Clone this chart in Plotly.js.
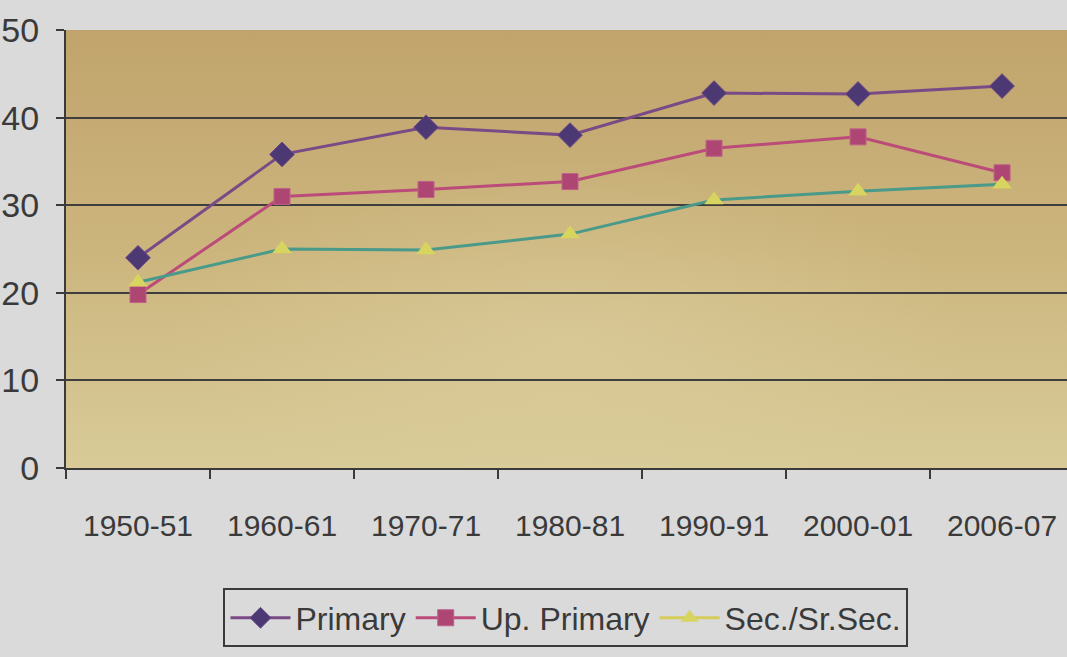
<!DOCTYPE html>
<html>
<head>
<meta charset="utf-8">
<script src="https://cdn.plot.ly/plotly-3.0.1.min.js"></script>
<style>html,body{margin:0;padding:0;background:#dadada;}#chart{width:1067px;height:657px;}</style>
</head>
<body>
<div id="chart"></div>
<script>
var years = ["1950-51","1960-61","1970-71","1980-81","1990-91","2000-01","2006-07"];
var primary = [24.0, 35.8, 38.9, 38.0, 42.8, 42.7, 43.6];
var upPrimary = [19.8, 31.0, 31.8, 32.7, 36.5, 37.8, 33.7];
var secondary = [21.2, 25.0, 24.9, 26.7, 30.6, 31.6, 32.4];
var yTicks = [0, 10, 20, 30, 40, 50];

var FONT = '"Liberation Sans", Arial, sans-serif';

var svg = '<svg xmlns="http://www.w3.org/2000/svg" width="100" height="100" preserveAspectRatio="none">' +
  '<defs><linearGradient id="g" x1="0" y1="0" x2="0" y2="1">' +
  '<stop offset="0" stop-color="#c0a46c"/><stop offset="0.5" stop-color="#ccb57d"/>' +
  '<stop offset="1" stop-color="#d8cb98"/></linearGradient>' +
  '<radialGradient id="r" cx="0.5" cy="0.7" r="0.4"><stop offset="0" stop-color="#e0d4a6" stop-opacity="0.45"/>' +
  '<stop offset="1" stop-color="#e0d4a6" stop-opacity="0"/></radialGradient></defs>' +
  '<rect width="100" height="100" fill="url(#g)"/><rect width="100" height="100" fill="url(#r)"/></svg>';
var bgSrc = 'data:image/svg+xml;base64,' + btoa(svg);

var traces = [
  {x: years, y: primary, name: 'Primary', type: 'scatter', mode: 'lines+markers',
   line: {color: '#7a4a86', width: 3},
   marker: {symbol: 'diamond', size: 19, color: '#4c3873', line: {color: '#6a4a88', width: 1}}},
  {x: years, y: upPrimary, name: 'Up. Primary', type: 'scatter', mode: 'lines+markers',
   line: {color: '#bb4c7a', width: 3},
   marker: {symbol: 'square', size: 16, color: '#ad4673', line: {color: '#c06088', width: 1}}},
  {x: years, y: secondary, name: 'Sec./Sr.Sec.', type: 'scatter', mode: 'lines+markers',
   showlegend: false,
   line: {color: '#4a9a8a', width: 3},
   marker: {symbol: 'triangle-up', size: 17, color: '#d8d460'}},
  {x: [null], y: [null], name: 'Sec./Sr.Sec.', type: 'scatter', mode: 'lines+markers',
   line: {color: '#d6cc5a', width: 3},
   marker: {symbol: 'triangle-up', size: 17, color: '#d8d460'}}
];

var layout = {
  width: 1067, height: 657,
  margin: {l: 66, r: 0, t: 30, b: 189},
  paper_bgcolor: '#dadada',
  plot_bgcolor: 'rgba(0,0,0,0)',
  font: {family: FONT, size: 30, color: '#3a3a3a'},
  showlegend: true,
  images: [{source: bgSrc, xref: 'paper', yref: 'paper', x: 0, y: 1, sizex: 1, sizey: 1,
            sizing: 'stretch', xanchor: 'left', yanchor: 'top', layer: 'below'}],
  xaxis: {
    type: 'category', range: [-0.5, 6.451], showgrid: false,
    ticks: 'outside', ticklen: 9, tickwidth: 2, tickcolor: '#3a3a3a', tickson: 'boundaries',
    showline: true, linecolor: '#3a3a3a', linewidth: 2, zeroline: false, tickangle: 0,
    tickfont: {family: FONT, size: 30, color: '#3a3a3a'}, ticklabelstandoff: 30
  },
  yaxis: {
    range: [0, 50], tickvals: yTicks, showgrid: true, gridcolor: '#3e3e3e', gridwidth: 2,
    ticks: 'outside', ticklen: 8, tickwidth: 2, tickcolor: '#3a3a3a',
    showline: true, linecolor: '#3a3a3a', linewidth: 2, zeroline: false,
    tickfont: {family: FONT, size: 34, color: '#3a3a3a'}, ticklabelstandoff: 10
  },
  legend: {
    orientation: 'h', x: 0.4995, xanchor: 'center', y: -0.275, yanchor: 'top',
    bgcolor: 'rgba(0,0,0,0)', bordercolor: '#3a3a3a', borderwidth: 2,
    font: {family: FONT, size: 32, color: '#3a3a3a'}, itemwidth: 60, tracegroupgap: 0
  }
};

Plotly.newPlot('chart', traces, layout, {displayModeBar: false, staticPlot: true});
</script>
</body>
</html>
